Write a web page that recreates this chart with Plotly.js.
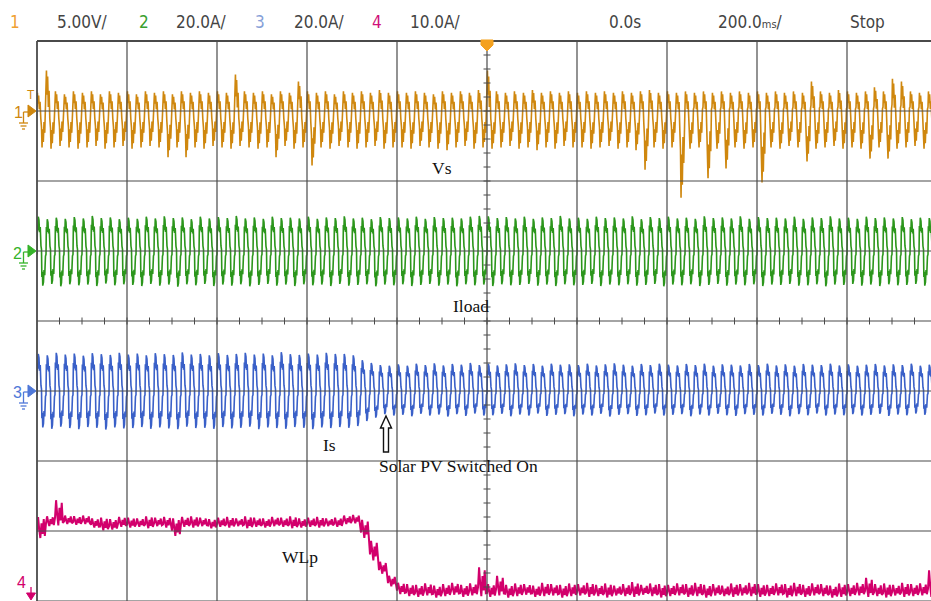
<!DOCTYPE html>
<html><head><meta charset="utf-8">
<script src="https://cdn.plot.ly/plotly-3.0.1.min.js"></script>
<style>html,body{margin:0;padding:0;background:#fff;overflow:hidden}#chart{width:931px;height:601px}</style>
</head><body><div id="chart"></div>
<script>
// ---- time base ----
const timePerDiv = 200;   // ms per division
const cyclePeriod = 20;   // ms (50 Hz)
const tStart = -1000;     // ms at left edge of screen

// ---- status bar ----
const statusTexts = ['1', '5.00V/', '2', '20.0A/', '3', '20.0A/', '4', '10.0A/', '0.0s', '200.0<span style="font-size:11px">ms</span>/', 'Stop'];

// ---- trace labels ----
const traceLabels = ['Vs', 'Iload', 'Is', 'Solar PV Switched On', 'WLp'];

// ---- per-cycle peaks (one value per 20 ms cycle) ----
// Ch1 Vs (V)
const vsHi = [
  1.3, 2.9, 1.4, 1.2, 1.4, 1.3, 1.4, 1.2, 1.4, 1.3,
  1.4, 1.2, 1.4, 1.3, 1.4, 1.2, 1.4, 1.3, 1.4, 1.3,
  1.4, 1.3, 2.6, 1.4, 1.3, 1.4, 1.2, 1.4, 1.3, 2.1,
  1.4, 1.3, 1.4, 1.2, 1.4, 1.3, 1.4, 1.3, 1.5, 1.3,
  1.4, 1.3, 1.4, 1.3, 1.2, 1.4, 1.3, 1.4, 1.3, 1.5,
  2.9, 1.4, 1.3, 1.4, 1.3, 1.5, 1.3, 1.4, 1.3, 1.4,
  1.3, 1.4, 1.3, 1.4, 1.3, 1.4, 1.3, 1.4, 1.5, 1.3,
  1.4, 1.3, 1.4, 1.3, 1.4, 1.3, 1.4, 1.3, 1.4, 1.3,
  1.4, 1.3, 1.4, 1.3, 1.4, 1.3, 2.1, 1.4, 1.3, 1.5,
  1.4, 1.3, 1.4, 1.7, 1.4, 2.3, 2.1, 1.4, 1.3, 1.4
];
const vsLo = [
  -2.6, -2.7, -2.5, -2.6, -2.7, -2.6, -2.5, -2.7, -2.6, -2.5,
  -2.7, -2.6, -2.5, -2.6, -3.3, -2.6, -3.3, -2.6, -2.7, -2.5,
  -2.6, -2.7, -2.5, -2.6, -2.7, -2.6, -3.3, -2.5, -2.7, -2.6,
  -3.9, -2.6, -2.7, -2.5, -2.6, -2.7, -2.6, -2.5, -2.7, -2.6,
  -2.6, -2.7, -2.5, -2.6, -2.7, -2.8, -2.6, -2.5, -2.7, -2.6,
  -2.7, -2.6, -2.5, -2.7, -2.6, -2.8, -2.6, -2.7, -2.5, -2.6,
  -2.6, -2.7, -2.6, -2.5, -2.7, -2.6, -2.8, -4.2, -2.6, -2.7,
  -2.6, -6.2, -2.7, -2.6, -4.8, -2.7, -4.1, -2.6, -2.7, -2.6,
  -5.1, -2.6, -2.7, -2.5, -2.6, -3.6, -2.7, -2.6, -2.5, -2.7,
  -2.6, -2.7, -3.4, -2.6, -3.4, -2.7, -2.6, -2.5, -2.7, -2.6
];
// Ch2 Iload (A)
const iloadHi = [
  9.8, 9.1, 9.5, 9.2, 9.7, 9.3, 10.0, 9.4, 9.6, 9.1,
  9.5, 9.2, 9.8, 9.3, 9.9, 9.4, 9.6, 9.1, 9.8, 9.3,
  9.7, 9.4, 10.0, 9.3, 9.6, 9.2, 9.8, 9.4, 9.5, 9.3,
  9.8, 9.2, 9.6, 9.4, 9.9, 9.3, 9.5, 9.1, 9.7, 9.4,
  9.6, 9.3, 9.8, 9.2, 9.7, 9.4, 9.5, 9.3, 9.8, 10.0,
  9.9, 9.4, 9.7, 9.3, 9.8, 9.2, 9.6, 9.4, 10.0, 9.3,
  9.5, 9.2, 9.8, 9.4, 9.6, 9.3, 9.9, 9.1, 9.7, 9.4,
  9.8, 9.3, 9.5, 9.2, 9.9, 9.4, 9.6, 9.3, 9.9, 9.2,
  9.7, 9.4, 9.5, 9.3, 9.8, 9.2, 9.6, 9.4, 9.9, 9.3,
  9.5, 9.2, 9.8, 9.4, 9.6, 9.3, 9.7, 9.1, 9.5, 9.4
];
const iloadLo = [
  -9.9, -9.4, -10.1, -9.5, -9.8, -9.6, -10.0, -9.3, -9.8, -9.5,
  -9.7, -10.0, -9.4, -9.9, -9.6, -10.2, -9.5, -9.8, -9.4, -10.0,
  -9.6, -9.9, -9.5, -10.1, -9.7, -9.4, -9.9, -9.6, -10.0, -9.5,
  -9.8, -9.6, -10.0, -9.4, -9.9, -9.7, -9.5, -10.1, -9.6, -9.8,
  -9.5, -10.0, -9.7, -9.4, -9.9, -9.6, -10.1, -9.5, -9.8, -9.6,
  -10.0, -9.5, -9.8, -9.7, -9.4, -9.9, -9.6, -10.0, -9.5, -9.8,
  -9.7, -9.4, -10.0, -9.6, -9.8, -9.5, -9.9, -9.7, -9.4, -10.1,
  -9.6, -9.8, -9.5, -10.0, -9.7, -9.4, -9.9, -9.6, -9.8, -9.5,
  -10.0, -9.6, -9.7, -9.4, -9.9, -9.8, -9.5, -10.1, -9.6, -9.7,
  -9.4, -9.9, -9.6, -10.0, -9.5, -9.8, -9.7, -9.4, -9.9, -9.6
];
// Ch3 Is (A)
const isHi = [
  10.6, 10.2, 10.9, 10.4, 10.7, 10.1, 10.8, 10.5, 10.3, 10.9,
  10.4, 10.7, 10.2, 10.8, 10.5, 10.3, 11.0, 10.4, 10.6, 10.2,
  10.8, 10.3, 10.6, 10.9, 10.4, 10.7, 10.2, 11.1, 10.5, 10.3,
  10.7, 10.4, 10.9, 10.6, 10.6, 10.2, 8.8, 8.0, 7.4, 7.2,
  7.6, 7.2, 7.8, 7.4, 7.9, 7.3, 7.7, 7.5, 8.0, 7.4,
  7.8, 7.3, 7.6, 7.9, 7.4, 7.7, 7.2, 7.8, 7.5, 7.6,
  7.4, 7.8, 7.3, 7.6, 7.9, 7.5, 7.2, 7.7, 7.4, 7.8,
  7.5, 7.3, 7.7, 7.4, 7.8, 7.2, 7.6, 7.5, 7.3, 7.7,
  7.4, 7.8, 7.3, 7.6, 7.2, 7.7, 7.5, 7.4, 7.8, 7.3,
  7.6, 7.2, 7.5, 7.7, 7.3, 7.6, 7.4, 7.8, 7.2, 7.5
];
const isLo = [
  -10.4, -10.8, -10.2, -10.6, -10.9, -10.3, -10.5, -11.0, -10.4, -10.7,
  -10.6, -10.3, -10.8, -10.4, -10.7, -10.9, -10.2, -10.6, -10.5, -10.8,
  -10.3, -10.7, -10.5, -10.2, -10.9, -10.4, -10.6, -10.8, -10.3, -10.5,
  -10.9, -10.4, -10.6, -10.3, -10.5, -10.0, -8.6, -7.6, -6.6, -7.0,
  -6.8, -7.2, -6.5, -7.0, -6.7, -7.3, -6.6, -7.1, -6.4, -7.0,
  -6.9, -6.5, -7.2, -6.7, -7.0, -6.4, -7.1, -6.8, -6.6, -7.2,
  -6.7, -7.0, -6.5, -7.3, -6.8, -6.6, -7.1, -6.9, -6.4, -7.0,
  -6.8, -6.6, -7.2, -6.7, -7.0, -6.5, -6.9, -7.1, -6.6, -6.8,
  -7.0, -6.5, -6.8, -7.2, -6.6, -6.9, -6.4, -7.0, -6.7, -6.9,
  -6.6, -7.0, -6.8, -6.5, -7.1, -6.7, -6.9, -6.4, -6.8, -7.0
];
// Ch4 WLp (A)
const wlpHi = [
  12.0, 12.1, 14.4, 12.2, 12.1, 12.2, 11.8, 11.9, 11.7, 12.0,
  11.9, 11.8, 12.1, 11.9, 12.0, 11.8, 12.0, 12.1, 11.9, 11.7,
  11.9, 12.0, 11.8, 12.1, 11.9, 11.8, 12.0, 11.9, 12.1, 11.8,
  11.9, 12.0, 11.8, 11.9, 12.2, 12.3, 11.6, 8.6, 5.6, 3.6,
  2.6, 2.4, 2.3, 2.5, 2.2, 2.4, 2.6, 2.3, 2.5, 4.8,
  2.4, 3.6, 2.3, 2.5, 2.4, 2.2, 2.6, 2.4, 2.3, 2.5,
  2.4, 2.6, 2.3, 2.5, 2.2, 2.4, 2.7, 2.3, 2.5, 2.4,
  2.3, 2.5, 2.4, 2.6, 2.3, 2.4, 2.2, 2.5, 2.4, 2.6,
  2.4, 2.3, 2.5, 2.4, 2.6, 2.3, 2.5, 2.4, 2.2, 2.5,
  2.4, 2.6, 3.3, 2.4, 2.5, 2.3, 2.6, 2.4, 2.5, 4.4
];
const wlpLo = [
  9.0, 10.7, 10.8, 11.0, 10.9, 11.0, 10.5, 10.1, 10.2, 10.6,
  10.5, 10.6, 10.4, 10.7, 10.5, 9.3, 10.6, 10.5, 10.7, 10.4,
  10.6, 10.5, 10.7, 10.4, 10.6, 10.5, 10.7, 10.6, 10.4, 10.5,
  10.6, 10.5, 10.7, 10.6, 11.0, 11.1, 9.0, 5.8, 3.9, 2.1,
  1.0, 0.7, 0.6, 0.8, 0.5, 0.7, 0.9, 0.6, 0.8, 0.7,
  0.6, 0.8, 0.5, 0.7, 0.9, 0.6, 0.7, 0.8, 0.5, 0.7,
  0.8, 0.6, 0.7, 0.5, 0.8, 0.7, 0.6, 0.9, 0.7, 0.5,
  0.7, 0.8, 0.6, 0.7, 0.5, 0.8, 0.7, 0.6, 0.8, 0.7,
  0.6, 0.7, 0.8, 0.5, 0.7, 0.6, 0.8, 0.7, 0.5, 0.6,
  0.7, 0.8, 0.6, 0.7, 0.5, 0.8, 0.6, 0.7, 0.8, 0.6
];

// ---- per-cycle waveform outline read from zoomed cycles: [fraction of cycle, relative level] ----
const vsCycle = [[0,0.2],[0.05,1],[0.1,0.4],[0.18,0.85],[0.26,0.1],[0.34,0.5],[0.42,-0.2],[0.5,-0.45],[0.56,-1],[0.62,-0.5],[0.7,-0.85],[0.78,-0.3],[0.86,-0.6],[0.94,0.1]];
const currentCycle = [[0,-0.1],[0.04,0.75],[0.1,0.6],[0.14,1],[0.22,0.9],[0.28,0.55],[0.36,0.7],[0.44,0.15],[0.5,0.05],[0.54,-0.75],[0.6,-0.6],[0.64,-1],[0.72,-0.9],[0.78,-0.55],[0.86,-0.7],[0.94,-0.15]];
const wlpCycle = [[0,0.3],[0.12,1],[0.25,0.4],[0.37,0],[0.5,0.7],[0.62,0.2],[0.75,0.9],[0.87,0.1]];

function buildWave(hi, lo, cyc) {
  const x = [], y = [];
  for (let k = 0; k < hi.length; k++) {
    for (const [f, v] of cyc) {
      x.push(tStart + (k + f) * cyclePeriod);
      y.push(v >= 0 ? v * hi[k] : -v * lo[k]);
    }
  }
  return {x, y};
}
function buildBand(hi, lo, cyc) {
  const x = [], y = [];
  for (let k = 0; k < hi.length; k++) {
    for (const [f, v] of cyc) {
      x.push(tStart + (k + f) * cyclePeriod);
      y.push(lo[k] + v * (hi[k] - lo[k]));
    }
  }
  return {x, y};
}

const colVs = '#cf870e', colIl = '#2c961c', colIs = '#3a60c8', colW = '#d2006c';
const wVs = buildWave(vsHi, vsLo, vsCycle);
const wIl = buildWave(iloadHi, iloadLo, currentCycle);
const wIs = buildWave(isHi, isLo, currentCycle);
const wW = buildBand(wlpHi, wlpLo, wlpCycle);

const traces = [
  {x: wVs.x, y: wVs.y, yaxis: 'y', mode: 'lines', line: {color: colVs, width: 1.6}, hoverinfo: 'skip'},
  {x: wIl.x, y: wIl.y, yaxis: 'y2', mode: 'lines', line: {color: colIl, width: 1.6}, hoverinfo: 'skip'},
  {x: wIs.x, y: wIs.y, yaxis: 'y3', mode: 'lines', line: {color: colIs, width: 1.6}, hoverinfo: 'skip'},
  {x: wW.x, y: wW.y, yaxis: 'y4', mode: 'lines', line: {color: colW, width: 2}, hoverinfo: 'skip'}
];

// ---- screen geometry (pixels) ----
const L = 37, T = 41, PW = 894, PH = 560, DIVX = 90, DIVY = 70;
const px = v => (v - L) / PW;
const py = v => (T + PH - v) / PH;
const P = (a, b) => px(a).toFixed(5) + ',' + py(b).toFixed(5);

const shapes = [];
const gridCol = '#4a4a4a';
for (let i = 0; i <= 10; i++) {
  shapes.push({type: 'line', xref: 'paper', yref: 'paper', x0: px(L + i * DIVX), x1: px(L + i * DIVX), y0: 0, y1: 1,
    layer: 'above', line: {color: gridCol, width: i === 0 ? 1.8 : 1.2}});
}
for (let j = 0; j <= 8; j++) {
  shapes.push({type: 'line', xref: 'paper', yref: 'paper', x0: 0, x1: 1, y0: j / 8, y1: j / 8,
    layer: 'above', line: {color: gridCol, width: j === 8 ? 1.8 : 1.2}});
}
// centre graticule minor ticks
const cx = L + 5 * DIVX, cy = T + 4 * DIVY;
for (let m = 1; m < 40; m++) {
  const yy = T + m * DIVY / 5;
  shapes.push({type: 'line', xref: 'paper', yref: 'paper', x0: px(cx - 3.5), x1: px(cx + 3.5), y0: py(yy), y1: py(yy),
    layer: 'above', line: {color: gridCol, width: 1}});
}
for (let n = 1; n < 40; n++) {
  const xx = L + n * DIVX / 4;
  shapes.push({type: 'line', xref: 'paper', yref: 'paper', x0: px(xx), x1: px(xx), y0: py(cy - 3.5), y1: py(cy + 3.5),
    layer: 'above', line: {color: gridCol, width: 1}});
}
// trigger marker
shapes.push({type: 'path', xref: 'paper', yref: 'paper', layer: 'above',
  path: 'M ' + P(481, 40) + ' L ' + P(493, 40) + ' L ' + P(493, 45) + ' L ' + P(487, 51) + ' L ' + P(481, 45) + ' Z',
  fillcolor: '#f4a11e', line: {color: '#f4a11e', width: 1}});

// channel ground markers
function groundMarker(yc, color) {
  shapes.push({type: 'path', xref: 'paper', yref: 'paper',
    path: 'M ' + P(28, yc - 6) + ' L ' + P(36, yc) + ' L ' + P(28, yc + 6) + ' Z', fillcolor: color, line: {color: color, width: 1}});
  const segs = [[23.5, yc + 1, 23.5, yc + 12], [23.5, yc + 1, 28, yc + 1], [19, yc + 12, 28, yc + 12], [20.5, yc + 15, 26.5, yc + 15], [22, yc + 18, 25, yc + 18]];
  for (const s of segs) shapes.push({type: 'line', xref: 'paper', yref: 'paper', x0: px(s[0]), y0: py(s[1]), x1: px(s[2]), y1: py(s[3]), line: {color: color, width: 1.3}});
}
groundMarker(T + 1 * DIVY, colVs);
groundMarker(T + 3 * DIVY, '#35b32a');
groundMarker(T + 5 * DIVY, '#4f78d8');
// ch4 off-screen marker
shapes.push({type: 'line', xref: 'paper', yref: 'paper', x0: px(31), x1: px(31), y0: py(587), y1: py(594), line: {color: colW, width: 1.3}});
shapes.push({type: 'path', xref: 'paper', yref: 'paper', path: 'M ' + P(26.5, 593) + ' L ' + P(35.5, 593) + ' L ' + P(31, 600) + ' Z', fillcolor: colW, line: {color: colW, width: 1}});
// hollow arrow
shapes.push({type: 'path', xref: 'paper', yref: 'paper', layer: 'above',
  path: 'M ' + P(386, 416) + ' L ' + P(391.5, 428) + ' L ' + P(388.5, 428) + ' L ' + P(388.5, 452) + ' L ' + P(383.5, 452) + ' L ' + P(383.5, 428) + ' L ' + P(380.5, 428) + ' Z',
  fillcolor: '#ffffff', line: {color: '#111', width: 1.4}});

// ---- annotations ----
const annotations = [];
const statusX = [15, 82, 144, 201, 260, 319, 377, 435, 625, 750, 867];
const statusCol = ['#f0a030', '#444', '#3aa030', '#444', '#86a0d8', '#444', '#d0107a', '#444', '#444', '#444', '#444'];
statusTexts.forEach((t, i) => annotations.push({text: t, xref: 'paper', yref: 'paper', x: px(statusX[i]), y: py(22),
  xanchor: 'center', yanchor: 'middle', showarrow: false, font: {family: 'Liberation Sans Narrow, DejaVu Sans Condensed, Liberation Sans, Arial, sans-serif', size: 17, color: statusCol[i]}}));
const chLab = [['1', 18, T + DIVY + 1, colVs], ['2', 17, T + 3 * DIVY + 2, '#35b32a'], ['3', 17, T + 5 * DIVY + 1, '#4f78d8'], ['4', 21, 582, colW], ['T', 31, 95, colVs]];
chLab.forEach(c => annotations.push({text: c[0], xref: 'paper', yref: 'paper', x: px(c[1]), y: py(c[2]), xanchor: 'center', yanchor: 'middle',
  showarrow: false, font: {family: 'Liberation Sans, Arial, sans-serif', size: c[0] === 'T' ? 12 : 16, color: c[3]}}));
const labPos = [[442, 168], [471, 306], [329, 445], [458, 466], [300, 557]];
traceLabels.forEach((t, i) => annotations.push({text: t, xref: 'paper', yref: 'paper', x: px(labPos[i][0]), y: py(labPos[i][1]),
  xanchor: 'center', yanchor: 'middle', showarrow: false, font: {family: 'Liberation Serif, Times New Roman, serif', size: 17.5, color: '#111'}}));

const layout = {
  width: 931, height: 601, margin: {l: L, r: 0, t: T, b: 0, pad: 0},
  paper_bgcolor: '#ffffff', plot_bgcolor: '#ffffff', showlegend: false,
  xaxis: {range: [tStart, tStart + PW / DIVX * timePerDiv], showgrid: false, zeroline: false, showticklabels: false, ticks: '', showline: false},
  yaxis: {range: [-35, 5], showgrid: false, zeroline: false, showticklabels: false, ticks: '', showline: false},
  yaxis2: {range: [-100, 60], overlaying: 'y', visible: false},
  yaxis3: {range: [-60, 100], overlaying: 'y', visible: false},
  yaxis4: {range: [0, 80], overlaying: 'y', visible: false},
  shapes: shapes, annotations: annotations
};
Plotly.newPlot('chart', traces, layout, {staticPlot: true, displayModeBar: false});
</script></body></html>
